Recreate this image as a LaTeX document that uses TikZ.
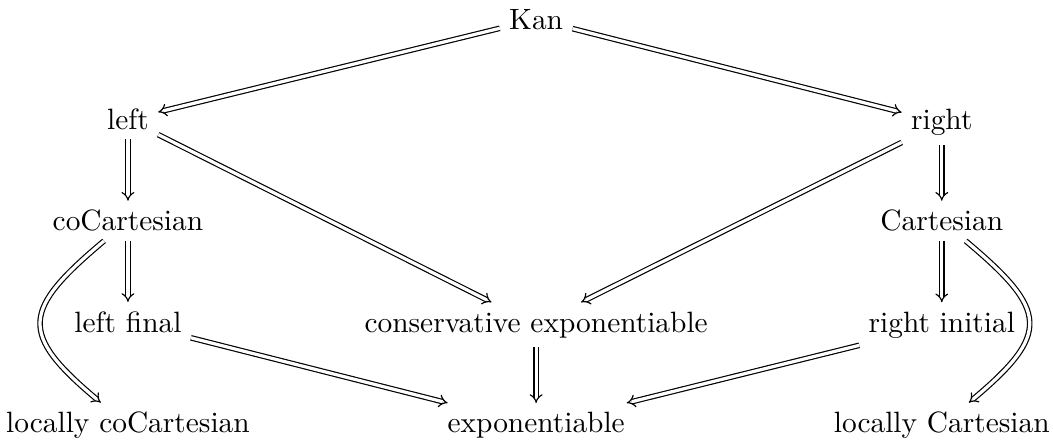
\documentclass[tikz,border=0pt]{standalone}
\usepackage{tikz}
\usetikzlibrary{arrows.meta}

\begin{document}
\begin{tikzpicture}[
  obj/.style={anchor=base, inner sep=3pt},
  imp/.style={double, double distance=1.1pt, line width=0.4pt, -{Implies}}]
\useasboundingbox (0,0) rectangle (12.59,5.27);
\node[obj] (kan) at (6.41,4.92) {Kan};
\node[obj] (left) at (1.53,3.72) {left};
\node[obj] (right) at (11.26,3.72) {right};
\node[obj] (cocart) at (1.53,2.51) {coCartesian};
\node[obj] (cart) at (11.26,2.51) {Cartesian};
\node[obj] (lfinal) at (1.53,1.30) {left final};
\node[obj] (consexp) at (6.41,1.30) {conservative exponentiable};
\node[obj] (rinit) at (11.26,1.30) {right initial};
\node[obj] (lcocart) at (1.53,0.096) {locally coCartesian};
\node[obj] (exp) at (6.41,0.096) {exponentiable};
\node[obj] (lcart) at (11.26,0.096) {locally Cartesian};
\draw[imp] (kan) -- (left); \draw[imp] (kan) -- (right);
\draw[imp] (left) -- (cocart); \draw[imp] (right) -- (cart);
\draw[imp] (left) -- (consexp); \draw[imp] (right) -- (consexp);
\draw[imp] (cocart) -- (lfinal); \draw[imp] (cart) -- (rinit);
\draw[imp] (cocart) to[out=-140, in=140, looseness=1.7] (lcocart);
\draw[imp] (cart) to[out=-40, in=40, looseness=1.7] (lcart);
\draw[imp] (lfinal) -- (exp); \draw[imp] (consexp) -- (exp);
\draw[imp] (rinit) -- (exp);
\end{tikzpicture}
\end{document}
